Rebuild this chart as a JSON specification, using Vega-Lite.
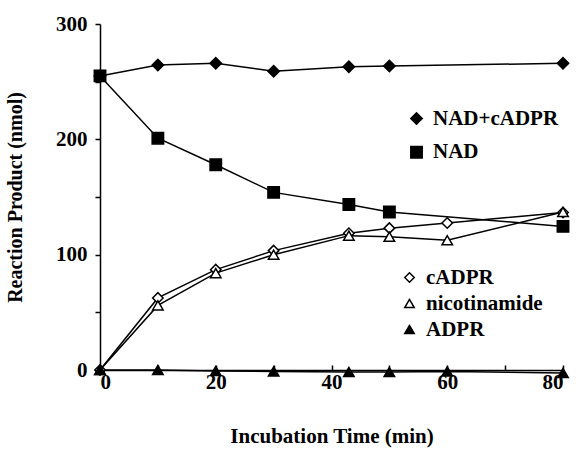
{
  "$schema": "https://vega.github.io/schema/vega-lite/v6.json",
  "width": 463,
  "height": 346,
  "autosize": {"type": "none"},
  "padding": {"left": 100, "top": 24, "right": 16, "bottom": 79},
  "background": "white",
  "config": {
    "view": {"stroke": null},
    "font": "'Liberation Serif', 'DejaVu Serif', serif",
    "axis": {
      "labelFont": "'Liberation Serif', 'DejaVu Serif', serif", "labelFontWeight": "bold", "labelFontSize": 21, "labelColor": "black",
      "titleFont": "'Liberation Serif', 'DejaVu Serif', serif", "titleFontWeight": "bold", "titleFontSize": 20, "titleColor": "black",
      "domainColor": "black", "domainWidth": 1.5, "tickColor": "black", "tickWidth": 1.5, "grid": false
    },
    "legend": {
      "orient": "none", "padding": 0, "labelFont": "'Liberation Serif', 'DejaVu Serif', serif", "labelFontWeight": "bold",
      "labelFontSize": 21, "labelColor": "black", "symbolStrokeWidth": 1.5,
      "symbolSize": 130, "title": null
    }
  },
  "layer": [
    {
      "data": {"values": [
        {"t": 0, "v": 255, "series": "NAD+cADPR"},
        {"t": 10, "v": 264.5, "series": "NAD+cADPR"},
        {"t": 20, "v": 266, "series": "NAD+cADPR"},
        {"t": 30, "v": 259, "series": "NAD+cADPR"},
        {"t": 43, "v": 263, "series": "NAD+cADPR"},
        {"t": 50, "v": 263.5, "series": "NAD+cADPR"},
        {"t": 80, "v": 266, "series": "NAD+cADPR"},
        {"t": 0, "v": 255, "series": "NAD"},
        {"t": 10, "v": 201, "series": "NAD"},
        {"t": 20, "v": 178, "series": "NAD"},
        {"t": 30, "v": 154, "series": "NAD"},
        {"t": 43, "v": 143.5, "series": "NAD"},
        {"t": 50, "v": 137, "series": "NAD"},
        {"t": 80, "v": 124.5, "series": "NAD"}
      ]},
      "layer": [
        {
          "mark": {"type": "line", "color": "black", "strokeWidth": 1.5},
          "encoding": {
            "x": {"field": "t", "type": "quantitative", "scale": {"domain": [0, 80], "nice": false},
              "axis": {"values": [0, 10, 20, 30, 40, 50, 60, 70, 80], "labelExpr": "datum.value % 20 === 0 ? datum.label : ''",
                "tickSize": -5, "labelPadding": 6, "title": "Incubation Time (min)", "titleFontSize": 21, "titlePadding": 33}},
            "y": {"field": "v", "type": "quantitative", "scale": {"domain": [0, 300], "nice": false},
              "axis": {"values": [0, 50, 100, 150, 200, 250, 300], "labelExpr": "datum.value % 100 === 0 ? datum.label : ''",
                "tickSize": 5, "labelPadding": 8, "title": "Reaction Product (nmol)", "titlePadding": 30}},
            "detail": {"field": "series"}
          }
        },
        {
          "mark": {"type": "point", "filled": true, "size": 130, "strokeWidth": 1.5, "opacity": 1},
          "encoding": {
            "x": {"field": "t", "type": "quantitative"},
            "y": {"field": "v", "type": "quantitative"},
            "stroke": {"field": "series", "type": "nominal",
              "scale": {"domain": ["NAD+cADPR", "NAD"], "range": ["black", "black"]},
              "legend": {"legendX": 306, "legendY": 84, "rowPadding": 11.7, "labelOffset": 6}},
            "shape": {"field": "series", "type": "nominal",
              "scale": {"domain": ["NAD+cADPR", "NAD"], "range": ["diamond", "square"]},
              "legend": {"legendX": 306, "legendY": 84, "rowPadding": 11.7, "labelOffset": 6}},
            "fill": {"field": "series", "type": "nominal",
              "scale": {"domain": ["NAD+cADPR", "NAD"], "range": ["black", "black"]},
              "legend": {"legendX": 306, "legendY": 84, "rowPadding": 11.7, "labelOffset": 6}}
          }
        }
      ]
    },
    {
      "data": {"values": [
        {"t": 0, "v": 0, "series": "cADPR"},
        {"t": 10, "v": 62.5, "series": "cADPR"},
        {"t": 20, "v": 87, "series": "cADPR"},
        {"t": 30, "v": 103.5, "series": "cADPR"},
        {"t": 43, "v": 118.5, "series": "cADPR"},
        {"t": 50, "v": 123, "series": "cADPR"},
        {"t": 60, "v": 127.5, "series": "cADPR"},
        {"t": 80, "v": 136.5, "series": "cADPR"},
        {"t": 0, "v": 0, "series": "nicotinamide"},
        {"t": 10, "v": 56, "series": "nicotinamide"},
        {"t": 20, "v": 84, "series": "nicotinamide"},
        {"t": 30, "v": 100, "series": "nicotinamide"},
        {"t": 43, "v": 116.5, "series": "nicotinamide"},
        {"t": 50, "v": 115.5, "series": "nicotinamide"},
        {"t": 60, "v": 112.5, "series": "nicotinamide"},
        {"t": 80, "v": 137, "series": "nicotinamide"},
        {"t": 0, "v": 0, "series": "ADPR"},
        {"t": 10, "v": 0, "series": "ADPR"},
        {"t": 20, "v": -0.8, "series": "ADPR"},
        {"t": 30, "v": -1.2, "series": "ADPR"},
        {"t": 43, "v": -1.7, "series": "ADPR"},
        {"t": 50, "v": -1.7, "series": "ADPR"},
        {"t": 60, "v": -1.2, "series": "ADPR"},
        {"t": 80, "v": -2.6, "series": "ADPR"}
      ]},
      "layer": [
        {
          "mark": {"type": "line", "color": "black", "strokeWidth": 1.5},
          "encoding": {
            "x": {"field": "t", "type": "quantitative"},
            "y": {"field": "v", "type": "quantitative"},
            "detail": {"field": "series"}
          }
        },
        {
          "mark": {"type": "point", "filled": true, "size": 110, "strokeWidth": 1.5, "opacity": 1},
          "encoding": {
            "x": {"field": "t", "type": "quantitative"},
            "y": {"field": "v", "type": "quantitative"},
            "stroke": {"field": "series", "type": "nominal",
              "scale": {"domain": ["cADPR", "nicotinamide", "ADPR"], "range": ["black", "black", "black"]},
              "legend": {"legendX": 299, "legendY": 243, "rowPadding": 4, "labelOffset": 6, "symbolSize": 90}},
            "shape": {"field": "series", "type": "nominal",
              "scale": {"domain": ["cADPR", "nicotinamide", "ADPR"], "range": ["diamond", "triangle-up", "triangle-up"]},
              "legend": {"legendX": 299, "legendY": 243, "rowPadding": 4, "labelOffset": 6, "symbolSize": 90}},
            "fill": {"field": "series", "type": "nominal",
              "scale": {"domain": ["cADPR", "nicotinamide", "ADPR"], "range": ["white", "white", "black"]},
              "legend": {"legendX": 299, "legendY": 243, "rowPadding": 4, "labelOffset": 6, "symbolSize": 90}}
          }
        }
      ]
    }
  ],
  "resolve": {"scale": {"shape": "independent", "fill": "independent", "stroke": "independent"}}
}
